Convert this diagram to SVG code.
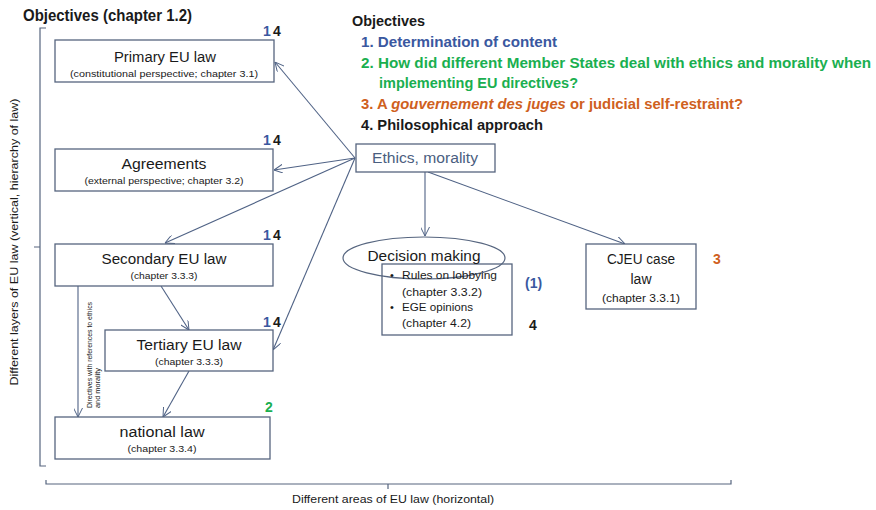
<svg xmlns="http://www.w3.org/2000/svg" width="876" height="510" viewBox="0 0 876 510">
<style>
text{font-family:"Liberation Sans",Arial,sans-serif;fill:#1a1a1a}
.box{fill:#fff;stroke:#56657f;stroke-width:1.3}
.t{font-size:14px;text-anchor:middle}
.s{font-size:9px;text-anchor:middle}
.b{font-weight:bold}
.blue{fill:#3a58a0}
.green{fill:#1aaf50}
.orange{fill:#cf6020}
.con{stroke:#4f6285;stroke-width:1.1;fill:none}
.brk{stroke:#56657f;stroke-width:1.2;fill:none}
</style>
<defs>
<marker id="ah" viewBox="0 0 10 10" refX="10" refY="5" markerWidth="9" markerHeight="9" orient="auto" markerUnits="userSpaceOnUse">
<path d="M0,0 L10,5 L0,10" fill="none" stroke="#4f6285" stroke-width="1.1"/>
</marker>
</defs>

<text x="23" y="21" class="b" font-size="16" textLength="169" lengthAdjust="spacingAndGlyphs">Objectives (chapter 1.2)</text>

<g id="axes">
<path class="brk" d="M46,28 H40 V466 H46 M40,247 H34"/>
<path class="brk" d="M46,480 V484 H731 V480 M388,484 V489"/>
<text x="14" y="242" font-size="11" text-anchor="middle" transform="rotate(-90 14 242)" dy="4" textLength="287" lengthAdjust="spacingAndGlyphs">Different layers of EU law (vertical, hierarchy of law)</text>
<text x="393" y="503" font-size="11" text-anchor="middle" textLength="202" lengthAdjust="spacingAndGlyphs">Different areas of EU law (horizontal)</text>
</g>

<g id="objectives" font-size="15" font-weight="bold">
<text x="352" y="26" class="b" textLength="73" lengthAdjust="spacingAndGlyphs">Objectives</text>
<text x="361" y="47" class="b blue" textLength="196" lengthAdjust="spacingAndGlyphs">1. Determination of content</text>
<text x="361" y="68" class="b green" textLength="510" lengthAdjust="spacingAndGlyphs">2. How did different Member States deal with ethics and morality when</text>
<text x="379" y="88" class="b green" textLength="199" lengthAdjust="spacingAndGlyphs">implementing EU directives?</text>
<text x="361" y="109" class="b orange" textLength="382" lengthAdjust="spacingAndGlyphs">3. A <tspan font-style="italic" class="orange">gouvernement des juges</tspan> or judicial self-restraint?</text>
<text x="361" y="130" class="b" textLength="182" lengthAdjust="spacingAndGlyphs">4. Philosophical approach</text>
</g>

<g id="connectors">
<line class="con" x1="355" y1="158" x2="275" y2="62" marker-end="url(#ah)"/>
<line class="con" x1="355" y1="158" x2="274" y2="170" marker-end="url(#ah)"/>
<line class="con" x1="355" y1="158" x2="165" y2="243" marker-end="url(#ah)"/>
<line class="con" x1="355" y1="158" x2="273" y2="350" marker-end="url(#ah)"/>
<line class="con" x1="425" y1="172" x2="425" y2="236" marker-end="url(#ah)"/>
<line class="con" x1="428" y1="172" x2="625" y2="244" marker-end="url(#ah)"/>
<line class="con" x1="161" y1="286" x2="189" y2="330" marker-end="url(#ah)"/>
<line class="con" x1="189" y1="371" x2="163" y2="417" marker-end="url(#ah)"/>
<line class="con" x1="78" y1="286" x2="78" y2="417" marker-end="url(#ah)"/>
<text font-size="7" transform="translate(92 408) rotate(-90)" textLength="106" lengthAdjust="spacingAndGlyphs">Directives with references to ethics</text>
<text font-size="7" transform="translate(100 408) rotate(-90)" textLength="40" lengthAdjust="spacingAndGlyphs">and morality</text>
</g>

<g id="primary">
<rect class="box" x="55" y="40" width="219" height="42"/>
<text class="t" x="165" y="62" textLength="102" lengthAdjust="spacingAndGlyphs">Primary EU law</text>
<text class="s" x="164" y="77" textLength="188" lengthAdjust="spacingAndGlyphs">(constitutional perspective; chapter 3.1)</text>
<text x="263" y="36" font-size="14" class="b"><tspan class="blue">1</tspan><tspan x="273">4</tspan></text>
</g>

<g id="agreements">
<rect class="box" x="55" y="149" width="218" height="42"/>
<text class="t" x="164" y="169" textLength="85" lengthAdjust="spacingAndGlyphs">Agreements</text>
<text class="s" x="164" y="184" textLength="159" lengthAdjust="spacingAndGlyphs">(external perspective; chapter 3.2)</text>
<text x="263" y="145" font-size="14" class="b"><tspan class="blue">1</tspan><tspan x="273">4</tspan></text>
</g>

<g id="secondary">
<rect class="box" x="55" y="244" width="218" height="42"/>
<text class="t" x="164" y="264" textLength="125" lengthAdjust="spacingAndGlyphs">Secondary EU law</text>
<text class="s" x="164" y="279" textLength="67" lengthAdjust="spacingAndGlyphs">(chapter 3.3.3)</text>
<text x="263" y="240" font-size="14" class="b"><tspan class="blue">1</tspan><tspan x="273">4</tspan></text>
</g>

<g id="tertiary">
<rect class="box" x="105" y="330" width="168" height="41"/>
<text class="t" x="189" y="350" textLength="105" lengthAdjust="spacingAndGlyphs">Tertiary EU law</text>
<text class="s" x="189" y="365" textLength="68" lengthAdjust="spacingAndGlyphs">(chapter 3.3.3)</text>
<text x="263" y="327" font-size="14" class="b"><tspan class="blue">1</tspan><tspan x="273">4</tspan></text>
</g>

<g id="national">
<rect class="box" x="55" y="417" width="215" height="42"/>
<text class="t" x="162" y="437" textLength="85" lengthAdjust="spacingAndGlyphs">national law</text>
<text class="s" x="162" y="452" textLength="69" lengthAdjust="spacingAndGlyphs">(chapter 3.3.4)</text>
<text x="265" y="412" font-size="14" class="b green">2</text>
</g>

<g id="ethics">
<rect class="box" x="356" y="144" width="139" height="28"/>
<text x="425" y="163" font-size="14" text-anchor="middle" fill="#4a5e80" style="fill:#4a5e80" textLength="106" lengthAdjust="spacingAndGlyphs">Ethics, morality</text>
</g>

<g id="decision">
<rect class="box" x="382" y="264" width="130" height="71"/>
<ellipse cx="424" cy="258" rx="81" ry="21" fill="none" stroke="#56657f" stroke-width="1.2"/>
<text x="424" y="261" font-size="14" text-anchor="middle" textLength="113" lengthAdjust="spacingAndGlyphs">Decision making</text>
<g font-size="11">
<text x="390" y="279">•</text>
<text x="402" y="279" textLength="95" lengthAdjust="spacingAndGlyphs">Rules on lobbying</text>
<text x="402" y="296" textLength="80" lengthAdjust="spacingAndGlyphs">(chapter 3.3.2)</text>
<text x="390" y="311">•</text>
<text x="402" y="311" textLength="71" lengthAdjust="spacingAndGlyphs">EGE opinions</text>
<text x="402" y="327" textLength="69" lengthAdjust="spacingAndGlyphs">(chapter 4.2)</text>
</g>
<text x="525" y="288" font-size="14" class="b blue">(1)</text>
<text x="529" y="330" font-size="14" class="b">4</text>
</g>

<g id="cjeu">
<rect class="box" x="586" y="244" width="110" height="65"/>
<text x="641" y="264" font-size="14" text-anchor="middle" textLength="68" lengthAdjust="spacingAndGlyphs">CJEU case</text>
<text x="641" y="284" font-size="14" text-anchor="middle">law</text>
<text x="641" y="302" font-size="11" text-anchor="middle" textLength="78" lengthAdjust="spacingAndGlyphs">(chapter 3.3.1)</text>
<text x="713" y="264" font-size="14" class="b orange">3</text>
</g>
</svg>
